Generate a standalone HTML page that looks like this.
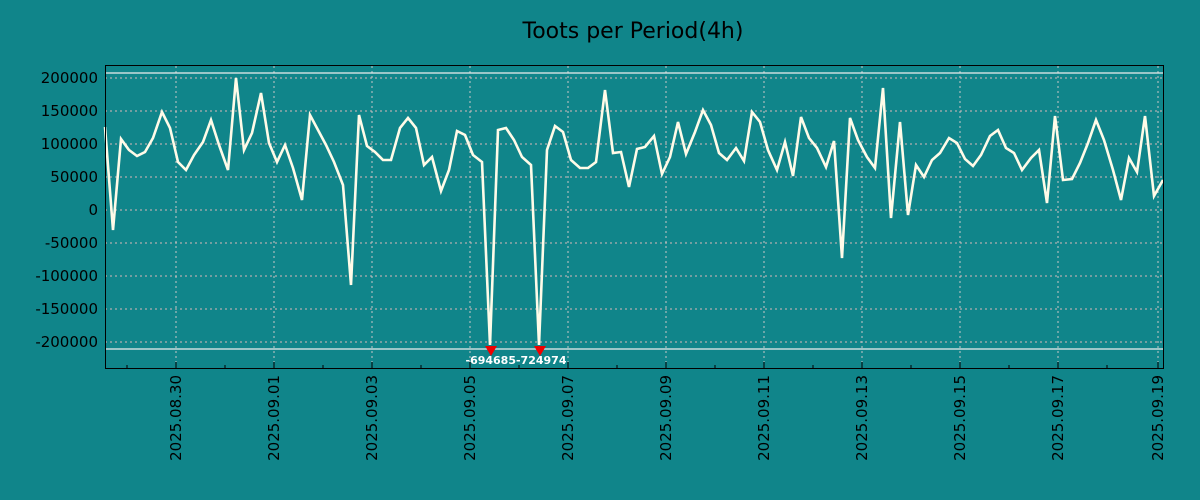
<!DOCTYPE html>
<html><head><meta charset="utf-8"><style>
html,body{margin:0;padding:0;background:#10858a;width:1200px;height:500px;overflow:hidden}
text{font-family:"DejaVu Sans","Liberation Sans",sans-serif}
</style></head><body>
<svg width="1200" height="500" xmlns="http://www.w3.org/2000/svg">
<rect width="1200" height="500" fill="#10858a"/>
<text x="633" y="38" font-size="22" text-anchor="middle" fill="#000">Toots per Period(4h)</text>
<g stroke="#d8b8b8" stroke-width="1" stroke-dasharray="2,3">
<line x1="105" x2="1163" y1="78" y2="78"/><line x1="105" x2="1163" y1="111" y2="111"/>
<line x1="105" x2="1163" y1="144" y2="144"/><line x1="105" x2="1163" y1="177" y2="177"/>
<line x1="105" x2="1163" y1="210" y2="210"/><line x1="105" x2="1163" y1="243" y2="243"/>
<line x1="105" x2="1163" y1="276" y2="276"/><line x1="105" x2="1163" y1="309" y2="309"/>
<line x1="105" x2="1163" y1="342" y2="342"/>
</g>
<g stroke="#c8c8c8" stroke-width="1" stroke-dasharray="2,3">
<line x1="176" x2="176" y1="66" y2="368"/><line x1="274" x2="274" y1="66" y2="368"/>
<line x1="372" x2="372" y1="66" y2="368"/><line x1="470" x2="470" y1="66" y2="368"/>
<line x1="568" x2="568" y1="66" y2="368"/><line x1="666" x2="666" y1="66" y2="368"/>
<line x1="764" x2="764" y1="66" y2="368"/><line x1="862" x2="862" y1="66" y2="368"/>
<line x1="960" x2="960" y1="66" y2="368"/><line x1="1058" x2="1058" y1="66" y2="368"/>
<line x1="1158" x2="1158" y1="66" y2="368"/>
</g>
<line x1="105" x2="1163" y1="73" y2="73" stroke="#eee" stroke-width="1.2"/>
<line x1="105" x2="1163" y1="349" y2="349" stroke="#eee" stroke-width="1.2"/>
<polyline fill="none" stroke="#fffbe8" stroke-width="2.6" stroke-linejoin="miter" points="105,127 113,230 121,139 129,150 137,156 145,152 153,138 162,112 170,128 178,162 186,170 194,155 203,142 211,120 219,145 228,170 236,78 244,150 252,133 261,93 269,143 277,162 285,145 293,168 302,200 310,115 318,130 326,145 334,162 343,185 351,285 359,115 367,146 375,152 383,160 391,160 400,128 408,118 416,128 424,165 432,157 441,191 449,170 457,131 465,135 473,155 482,162 490,345 498,130 506,128 514,140 522,157 531,165 539,345 547,150 555,126 563,132 571,160 580,168 588,168 596,162 605,90 613,153 621,152 629,187 637,149 645,147 654,136 662,174 670,157 678,122 686,154 695,132 703,110 711,125 719,153 727,160 736,148 744,161 752,112 760,122 768,150 777,170 785,142 793,176 801,117 809,138 817,148 826,167 834,141 842,258 850,118 858,140 867,157 875,168 883,88 891,218 900,122 908,215 916,165 924,177 932,160 940,153 949,138 957,143 965,159 973,166 981,155 990,136 998,130 1006,148 1014,153 1022,170 1031,158 1039,150 1047,203 1055,116 1063,180 1072,179 1080,163 1088,143 1096,120 1104,140 1113,170 1121,200 1129,158 1137,172 1145,116 1154,196 1163,180"/>
<polygon points="485,346 497,346 491,356" fill="#e00"/>
<polygon points="534,346 546,346 540,356" fill="#e00"/>
<text x="516" y="364" font-size="11" font-weight="bold" fill="#fff" text-anchor="middle">-694685-724974</text>
<rect x="105.5" y="65.5" width="1058" height="303" fill="none" stroke="#000" stroke-width="1"/>
<g font-size="15" fill="#000" text-anchor="end">
<text x="98" y="83">200000</text><text x="98" y="116">150000</text><text x="98" y="149">100000</text>
<text x="98" y="182">50000</text><text x="98" y="215">0</text><text x="98" y="248">-50000</text>
<text x="98" y="281">-100000</text><text x="98" y="314">-150000</text><text x="98" y="347">-200000</text>
</g>
<g stroke="#000" stroke-width="1">
<line x1="176" x2="176" y1="368" y2="362"/><line x1="274" x2="274" y1="368" y2="362"/>
<line x1="372" x2="372" y1="368" y2="362"/><line x1="470" x2="470" y1="368" y2="362"/>
<line x1="568" x2="568" y1="368" y2="362"/><line x1="666" x2="666" y1="368" y2="362"/>
<line x1="764" x2="764" y1="368" y2="362"/><line x1="862" x2="862" y1="368" y2="362"/>
<line x1="960" x2="960" y1="368" y2="362"/><line x1="1058" x2="1058" y1="368" y2="362"/>
<line x1="1158" x2="1158" y1="368" y2="362"/>
<line x1="127" x2="127" y1="368" y2="365"/><line x1="225" x2="225" y1="368" y2="365"/>
<line x1="323" x2="323" y1="368" y2="365"/><line x1="421" x2="421" y1="368" y2="365"/>
<line x1="519" x2="519" y1="368" y2="365"/><line x1="617" x2="617" y1="368" y2="365"/>
<line x1="715" x2="715" y1="368" y2="365"/><line x1="813" x2="813" y1="368" y2="365"/>
<line x1="911" x2="911" y1="368" y2="365"/><line x1="1009" x2="1009" y1="368" y2="365"/>
<line x1="1107" x2="1107" y1="368" y2="365"/>
</g>
<g font-size="15" fill="#000" text-anchor="end">
<text transform="translate(181,375) rotate(-90)">2025.08.30</text>
<text transform="translate(279,375) rotate(-90)">2025.09.01</text>
<text transform="translate(377,375) rotate(-90)">2025.09.03</text>
<text transform="translate(475,375) rotate(-90)">2025.09.05</text>
<text transform="translate(573,375) rotate(-90)">2025.09.07</text>
<text transform="translate(671,375) rotate(-90)">2025.09.09</text>
<text transform="translate(769,375) rotate(-90)">2025.09.11</text>
<text transform="translate(867,375) rotate(-90)">2025.09.13</text>
<text transform="translate(965,375) rotate(-90)">2025.09.15</text>
<text transform="translate(1063,375) rotate(-90)">2025.09.17</text>
<text transform="translate(1163,375) rotate(-90)">2025.09.19</text>
</g>
</svg>
</body></html>
